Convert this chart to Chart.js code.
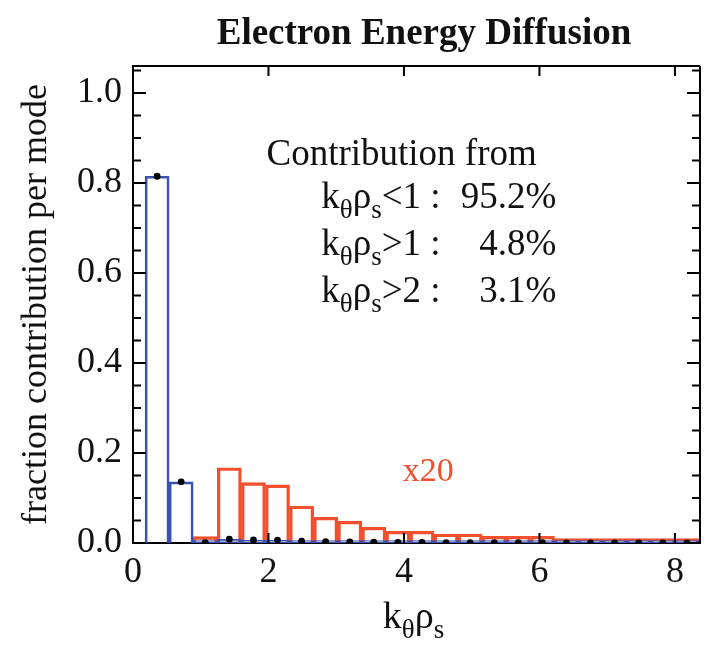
<!DOCTYPE html>
<html>
<head>
<meta charset="utf-8">
<script src="https://cdn.jsdelivr.net/npm/chart.js@4.4.1/dist/chart.umd.min.js"></script>
<style>
  html, body { margin: 0; padding: 0; background: #fff; }
  #wrap { width: 709px; height: 653px; }
</style>
</head>
<body>
<div id="wrap"><canvas id="chart" width="709" height="653"></canvas></div>
<script>
// mode centres in k_theta rho_s
var kRho = [0.356, 0.711, 1.067, 1.422, 1.778, 2.133, 2.489, 2.844, 3.200, 3.555, 3.911, 4.266,
            4.622, 4.977, 5.333, 5.688, 6.044, 6.399, 6.755, 7.110, 7.466, 7.821, 8.177];
// fraction contribution per mode (blue bars + black dots)
var fractionPerMode = [0.815, 0.136, 0.0007, 0.0084, 0.0067, 0.0065, 0.0041, 0.0029, 0.0024, 0.0018,
                       0.0013, 0.0013, 0.0010, 0.0010, 0.0008, 0.0008, 0.0008, 0.0005, 0.0005,
                       0.0005, 0.0005, 0.0005, 0.0005];
// same modes for k_theta rho_s > 1, multiplied by 20 (red bars)
var fractionX20 = [null, null, 0.014, 0.167, 0.134, 0.129, 0.082, 0.057, 0.048, 0.035, 0.026, 0.026,
                   0.020, 0.020, 0.015, 0.015, 0.015, 0.010, 0.010, 0.010, 0.010, 0.010, 0.010];
var xTickValues = [0, 2, 4, 6, 8];
var yTickValues = [0, 0.2, 0.4, 0.6, 0.8, 1.0];
var yMinorValues = [0.05, 0.1, 0.15, 0.25, 0.3, 0.35, 0.45, 0.5, 0.55, 0.65, 0.7, 0.75, 0.85, 0.9, 0.95, 1.05];
var summaryLabels = ['<1 :', '>1 :', '>2 :'];
var summaryValues = ['95.2%', '4.8%', '3.1%'];

var BLUE = '#3a52b2';
var RED = '#f0502e';
var SERIF = "'Liberation Serif', 'DejaVu Serif', serif";

function toPoints(ys) {
    return kRho.map(function (k, i) { return { x: k, y: ys[i] }; });
}

// draws k_theta rho_s with subscripts, returns the end x
function drawKRho(ctx, x, y, size, measureOnly) {
    var sub = Math.round(size * 0.72);
    var parts = [['k', size, 0], ['\u03b8', sub, 10], ['\u03c1', size, 0], ['s', sub, 10]];
    parts.forEach(function (p) {
        ctx.font = p[1] + 'px ' + SERIF;
        if (!measureOnly) ctx.fillText(p[0], x, y + p[2]);
        x += ctx.measureText(p[0]).width;
    });
    return x;
}

var framePlugin = {
    id: 'frame',
    afterDatasetsDraw: function (chart) {
        // box on top and right, plus inward ticks on all four sides
        var ctx = chart.ctx, a = chart.chartArea;
        var xs = chart.scales.x, ys = chart.scales.y;
        ctx.save();
        ctx.strokeStyle = '#000';
        ctx.lineWidth = 2;
        ctx.beginPath();
        ctx.moveTo(a.left, a.top); ctx.lineTo(a.right, a.top);
        ctx.moveTo(a.right, a.top); ctx.lineTo(a.right, a.bottom);
        xTickValues.forEach(function (v) {
            if (v === 0) return;
            var px = xs.getPixelForValue(v);
            ctx.moveTo(px, a.bottom); ctx.lineTo(px, a.bottom - 10);
            ctx.moveTo(px, a.top); ctx.lineTo(px, a.top + 10);
        });
        yTickValues.forEach(function (v) {
            var py = ys.getPixelForValue(v);
            ctx.moveTo(a.left, py); ctx.lineTo(a.left + 13, py);
            ctx.moveTo(a.right, py); ctx.lineTo(a.right - 13, py);
        });
        yMinorValues.forEach(function (v) {
            var py = ys.getPixelForValue(v);
            ctx.moveTo(a.left, py); ctx.lineTo(a.left + 8, py);
            ctx.moveTo(a.right, py); ctx.lineTo(a.right - 8, py);
        });
        ctx.stroke();
        ctx.restore();
    },
    afterDraw: function (chart) {
        var ctx = chart.ctx, a = chart.chartArea;
        var xs = chart.scales.x, ys = chart.scales.y;
        ctx.save();
        ctx.fillStyle = '#111';
        ctx.textBaseline = 'alphabetic';

        // title
        ctx.font = 'bold 37px ' + SERIF;
        ctx.textAlign = 'center';
        ctx.fillText('Electron Energy Diffusion', 424, 44);

        // x axis title
        ctx.textAlign = 'left';
        var w = drawKRho(ctx, 0, 0, 38, true);
        drawKRho(ctx, (a.left + a.right) / 2 - 3 - w / 2, 628, 38, false);

        // summary text
        ctx.font = '37px ' + SERIF;
        ctx.fillText('Contribution from', xs.getPixelForValue(1.97), ys.getPixelForValue(0.84));
        var lineY = [0.745, 0.64, 0.535];
        summaryLabels.forEach(function (lab, i) {
            var y = ys.getPixelForValue(lineY[i]);
            var x = drawKRho(ctx, xs.getPixelForValue(2.78), y, 37, false);
            ctx.font = '37px ' + SERIF;
            ctx.textAlign = 'left';
            ctx.fillText(lab, x, y);
            ctx.textAlign = 'right';
            ctx.fillText(summaryValues[i], xs.getPixelForValue(6.25), y);
            ctx.textAlign = 'left';
        });

        // x20 marker for the red bars
        ctx.fillStyle = RED;
        ctx.font = '34px ' + SERIF;
        ctx.textAlign = 'center';
        ctx.fillText('x20', xs.getPixelForValue(4.36), ys.getPixelForValue(0.137));
        ctx.restore();
    }
};

var ctx = document.getElementById('chart');
new Chart(ctx, {
    type: 'bar',
    data: {
        datasets: [
            {
                type: 'scatter',
                data: toPoints(fractionPerMode),
                pointRadius: 3.4,
                pointBackgroundColor: '#000',
                pointBorderWidth: 0,
                order: 0
            },
            {
                data: toPoints(fractionPerMode),
                backgroundColor: 'rgba(0,0,0,0)',
                borderColor: BLUE,
                borderWidth: 2,
                minBarLength: 2.5,
                borderSkipped: function (c) { return c.dataIndex < 2 ? 'start' : false; },
                order: 1
            },
            {
                data: toPoints(fractionX20),
                backgroundColor: 'rgba(0,0,0,0)',
                borderColor: RED,
                borderWidth: 2.6,
                order: 2
            }
        ]
    },
    options: {
        responsive: false,
        animation: false,
        layout: { padding: { top: 66, right: 9, left: 0, bottom: 0 } },
        datasets: {
            bar: { grouped: false, barPercentage: 1, categoryPercentage: 1 }
        },
        plugins: {
            legend: { display: false },
            tooltip: { enabled: false },
            title: { display: false }
        },
        scales: {
            x: {
                type: 'linear',
                offset: false,
                min: 0,
                max: 8.37,
                grid: { display: false, drawTicks: false },
                border: { display: true, color: '#000', width: 2 },
                ticks: {
                    stepSize: 2,
                    padding: 8,
                    color: '#111',
                    font: { family: SERIF, size: 36 },
                    callback: function (v) { return String(v); }
                },
                afterBuildTicks: function (s) {
                    s.ticks = xTickValues.map(function (v) { return { value: v }; });
                },
                afterFit: function (s) { s.height = 110; }
            },
            y: {
                min: 0,
                max: 1.06,
                grid: { display: false, drawTicks: false },
                border: { display: true, color: '#000', width: 2 },
                ticks: {
                    padding: 11,
                    color: '#111',
                    font: { family: SERIF, size: 36 },
                    callback: function (v) { return v.toFixed(1); }
                },
                afterBuildTicks: function (s) {
                    s.ticks = yTickValues.map(function (v) { return { value: v }; });
                },
                afterFit: function (s) { s.width = 133; },
                title: {
                    display: true,
                    text: 'fraction contribution per mode',
                    color: '#111',
                    font: { family: SERIF, size: 36 },
                    padding: { top: 15, bottom: 0 }
                }
            }
        }
    },
    plugins: [framePlugin]
});
</script>
</body>
</html>
